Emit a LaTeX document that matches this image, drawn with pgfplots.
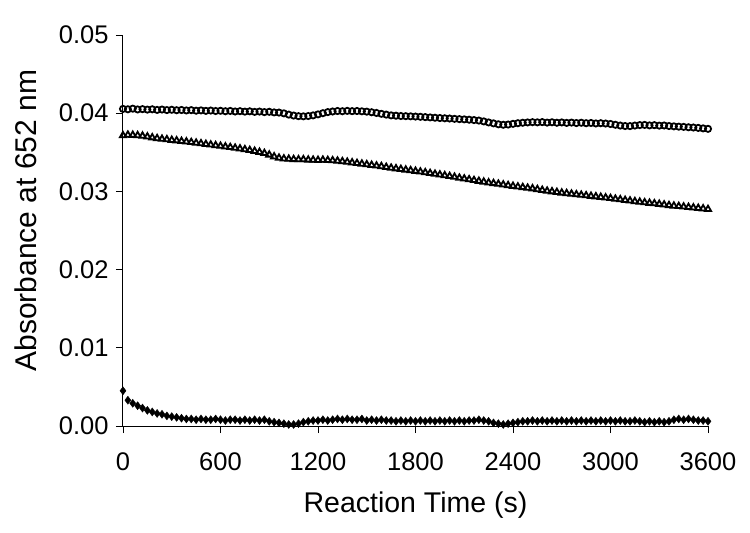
\documentclass[border=0pt]{standalone}
\usepackage{pgfplots}
\pgfplotsset{compat=1.18}
\usepackage{pgfplotstable}
\usepackage{fontspec}
\setmainfont{Liberation Sans}

% absorbance vs time, one reading every 30 s
\pgfplotstableread{
t y
0 0.04055
30 0.04050
60 0.04058
90 0.04048
120 0.04052
150 0.04046
180 0.04050
210 0.04042
240 0.04047
270 0.04040
300 0.04044
330 0.04038
360 0.04041
390 0.04035
420 0.04039
450 0.04032
480 0.04036
510 0.04030
540 0.04034
570 0.04028
600 0.04031
630 0.04025
660 0.04029
690 0.04022
720 0.04026
750 0.04020
780 0.04024
810 0.04017
840 0.04021
870 0.04014
900 0.04018
930 0.04010
960 0.04008
990 0.03998
1020 0.03982
1050 0.03970
1080 0.03962
1110 0.03960
1140 0.03964
1170 0.03972
1200 0.03985
1230 0.04000
1260 0.04014
1290 0.04022
1320 0.04028
1350 0.04025
1380 0.04030
1410 0.04026
1440 0.04028
1470 0.04024
1500 0.04020
1530 0.04012
1560 0.04003
1590 0.03992
1620 0.03982
1650 0.03972
1680 0.03968
1710 0.03964
1740 0.03962
1770 0.03960
1800 0.03957
1830 0.03954
1860 0.03950
1890 0.03946
1920 0.03942
1950 0.03938
1980 0.03935
2010 0.03932
2040 0.03928
2070 0.03924
2100 0.03921
2130 0.03917
2160 0.03912
2190 0.03906
2220 0.03895
2250 0.03882
2280 0.03870
2310 0.03858
2340 0.03852
2370 0.03855
2400 0.03864
2430 0.03872
2460 0.03878
2490 0.03882
2520 0.03885
2550 0.03883
2580 0.03886
2610 0.03880
2640 0.03884
2670 0.03878
2700 0.03882
2730 0.03876
2760 0.03880
2790 0.03874
2820 0.03878
2850 0.03872
2880 0.03875
2910 0.03869
2940 0.03872
2970 0.03868
3000 0.03862
3030 0.03852
3060 0.03842
3090 0.03836
3120 0.03835
3150 0.03842
3180 0.03848
3210 0.03850
3240 0.03844
3270 0.03847
3300 0.03841
3330 0.03843
3360 0.03836
3390 0.03832
3420 0.03828
3450 0.03825
3480 0.03820
3510 0.03817
3540 0.03812
3570 0.03806
3600 0.03800
}\circdata

\pgfplotstableread{
t y
0 0.03715
30 0.03722
60 0.03720
90 0.03716
120 0.03710
150 0.03700
180 0.03688
210 0.03678
240 0.03670
270 0.03664
300 0.03656
330 0.03650
360 0.03642
390 0.03636
420 0.03628
450 0.03620
480 0.03612
510 0.03604
540 0.03596
570 0.03588
600 0.03580
630 0.03572
660 0.03564
690 0.03555
720 0.03546
750 0.03536
780 0.03526
810 0.03515
840 0.03502
870 0.03488
900 0.03468
930 0.03445
960 0.03428
990 0.03418
1020 0.03414
1050 0.03410
1080 0.03408
1110 0.03408
1140 0.03404
1170 0.03402
1200 0.03400
1230 0.03402
1260 0.03398
1290 0.03395
1320 0.03390
1350 0.03383
1380 0.03376
1410 0.03368
1440 0.03360
1470 0.03352
1500 0.03344
1530 0.03336
1560 0.03328
1590 0.03320
1620 0.03310
1650 0.03300
1680 0.03292
1710 0.03284
1740 0.03276
1770 0.03268
1800 0.03260
1830 0.03251
1860 0.03242
1890 0.03232
1920 0.03222
1950 0.03213
1980 0.03204
2010 0.03194
2040 0.03184
2070 0.03172
2100 0.03162
2130 0.03152
2160 0.03142
2190 0.03132
2220 0.03122
2250 0.03112
2280 0.03103
2310 0.03095
2340 0.03086
2370 0.03077
2400 0.03068
2430 0.03060
2460 0.03052
2490 0.03044
2520 0.03036
2550 0.03026
2580 0.03016
2610 0.03006
2640 0.02998
2670 0.02990
2700 0.02982
2730 0.02975
2760 0.02968
2790 0.02960
2820 0.02954
2850 0.02947
2880 0.02940
2910 0.02934
2940 0.02927
2970 0.02920
3000 0.02912
3030 0.02903
3060 0.02896
3090 0.02888
3120 0.02880
3150 0.02872
3180 0.02865
3210 0.02858
3240 0.02851
3270 0.02845
3300 0.02838
3330 0.02830
3360 0.02822
3390 0.02815
3420 0.02810
3450 0.02804
3480 0.02798
3510 0.02792
3540 0.02786
3570 0.02780
3600 0.02772
}\tridata

\pgfplotstableread{
t y
0 0.0045
30 0.0033
60 0.0029
90 0.0026
120 0.0023
150 0.0020
180 0.0018
210 0.0016
240 0.0015
270 0.0013
300 0.0012
330 0.0011
360 0.0010
390 0.0009
420 0.0009
450 0.0008
480 0.0009
510 0.0008
540 0.0008
570 0.0009
600 0.0008
630 0.0007
660 0.0008
690 0.0008
720 0.0007
750 0.0008
780 0.0007
810 0.0008
840 0.0007
870 0.0008
900 0.0006
930 0.0005
960 0.0004
990 0.0003
1020 0.0002
1050 0.0002
1080 0.0003
1110 0.0005
1140 0.0006
1170 0.0007
1200 0.0007
1230 0.0008
1260 0.0007
1290 0.0008
1320 0.0009
1350 0.0008
1380 0.0009
1410 0.0008
1440 0.0008
1470 0.0009
1500 0.0007
1530 0.0008
1560 0.0007
1590 0.0008
1620 0.0007
1650 0.0007
1680 0.0006
1710 0.0007
1740 0.0006
1770 0.0007
1800 0.0006
1830 0.0007
1860 0.0006
1890 0.0007
1920 0.0006
1950 0.0007
1980 0.0006
2010 0.0007
2040 0.0006
2070 0.0007
2100 0.0006
2130 0.0007
2160 0.0007
2190 0.0008
2220 0.0007
2250 0.0006
2280 0.0004
2310 0.0003
2340 0.0002
2370 0.0003
2400 0.0004
2430 0.0005
2460 0.0006
2490 0.0006
2520 0.0007
2550 0.0006
2580 0.0007
2610 0.0006
2640 0.0007
2670 0.0006
2700 0.0007
2730 0.0006
2760 0.0007
2790 0.0006
2820 0.0007
2850 0.0006
2880 0.0007
2910 0.0006
2940 0.0007
2970 0.0006
3000 0.0007
3030 0.0006
3060 0.0007
3090 0.0006
3120 0.0006
3150 0.0007
3180 0.0006
3210 0.0005
3240 0.0006
3270 0.0005
3300 0.0006
3330 0.0005
3360 0.0006
3390 0.0008
3420 0.0009
3450 0.0008
3480 0.0009
3510 0.0008
3540 0.0007
3570 0.0007
3600 0.0006
}\diadata

\begin{document}
\begin{tikzpicture}
\begin{axis}[
    at={(0,0)}, anchor=south west,
    scale only axis,
    width=585pt, height=391pt,
    xmin=0, xmax=3600,
    ymin=0, ymax=0.05,
    xtick={0,600,1200,1800,2400,3000,3600},
    ytick={0,0.01,0.02,0.03,0.04,0.05},
    scaled y ticks=false,
    axis x line=bottom, axis y line=left,
    axis line style={-, line width=1pt},
    tick align=outside,
    major tick length=7pt,
    tick style={black, line width=0.8pt},
    /pgf/number format/assume math mode=true,
    ticklabel style={font=\fontsize{25.5}{30}\selectfont},
    yticklabel style={/pgf/number format/fixed, /pgf/number format/fixed zerofill, /pgf/number format/precision=2, xshift=-4pt},
    xticklabel style={/pgf/number format/1000 sep={}, yshift=-16pt},
    xlabel={Reaction Time (s)},
    ylabel={Absorbance at 652 nm},
    every axis x label/.style={at={(rel axis cs:0.5,0)}, yshift=-79pt, anchor=center, font=\fontsize{28.5}{33}\selectfont},
    every axis y label/.style={at={(rel axis cs:0,0.5)}, xshift=-97pt, yshift=10pt, rotate=90, anchor=center, font=\fontsize{30}{35}\selectfont},
    clip=false,
]
\addplot[only marks, mark=diamond*, mark size=4pt, mark options={fill=black, draw=black}] table[x=t, y=y] {\diadata};
\addplot[only marks, mark=triangle, mark size=3.6pt, mark options={draw=black, fill=white, line width=1.8pt}] table[x=t, y=y] {\tridata};
\addplot[only marks, mark=o, mark size=3.1pt, mark options={draw=black, fill=white, line width=1.8pt}] table[x=t, y=y] {\circdata};
\end{axis}
\pgfresetboundingbox
\useasboundingbox (-123pt,-107pt) rectangle (627pt,426pt);
\end{tikzpicture}
\end{document}
